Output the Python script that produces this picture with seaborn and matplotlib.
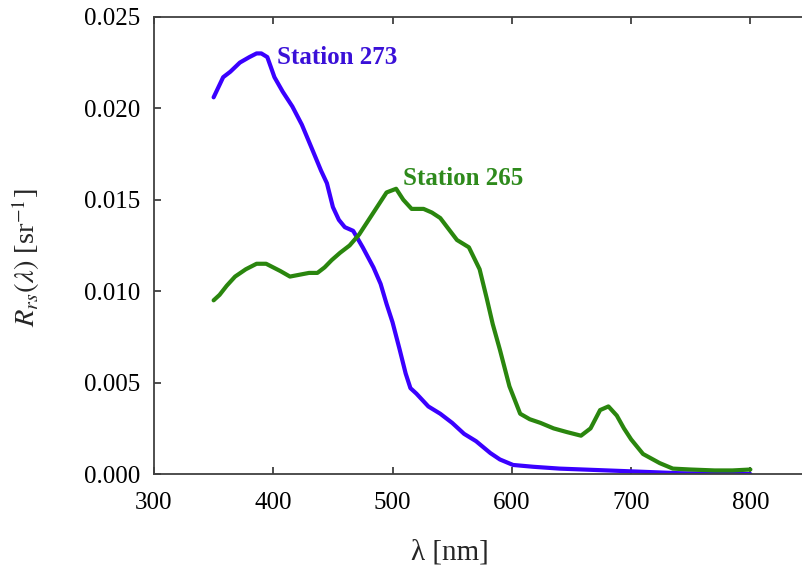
import numpy as np
import pandas as pd
import matplotlib
matplotlib.use("Agg")
import matplotlib.pyplot as plt
import seaborn as sns

# --- data ---
wl_273 = [350, 358, 364, 372, 380, 386, 390, 395, 401, 408, 416, 424, 433, 440,
          445, 450, 455, 460, 467, 475, 484, 490, 495, 500, 506, 511, 515, 520,
          530, 540, 550, 560, 570, 582, 590, 601, 618, 640, 660, 680, 700, 720,
          740, 760, 780, 800]
r_273 = [0.0206, 0.0217, 0.0220, 0.0225, 0.0228, 0.0230, 0.0230, 0.0228, 0.0217,
         0.0209, 0.0201, 0.0191, 0.0177, 0.0166, 0.0159, 0.0146, 0.0139, 0.0135,
         0.0133, 0.0124, 0.0113, 0.0104, 0.0093, 0.0083, 0.0068, 0.0055, 0.0047,
         0.0044, 0.0037, 0.0033, 0.0028, 0.0022, 0.0018, 0.00115, 0.0008, 0.0005,
         0.0004, 0.0003, 0.00025, 0.0002, 0.00015, 0.0001, 0.00005, 0.00003,
         0.00002, 0.0]

wl_265 = [350, 355, 361, 368, 377, 386, 394, 400, 406, 414, 422, 430, 437, 443,
          449, 456, 464, 472, 480, 487, 495, 503, 509, 516, 526, 533, 540, 547,
          554, 564, 573, 579, 584, 590, 598, 607, 615, 624, 635, 646, 658, 666,
          674, 681, 688, 694, 700, 710, 724, 735, 750, 770, 785, 800]
r_265 = [0.0095, 0.0098, 0.0103, 0.0108, 0.0112, 0.0115, 0.0115, 0.0113, 0.0111,
         0.0108, 0.0109, 0.0110, 0.0110, 0.0113, 0.0117, 0.0121, 0.0125, 0.0131,
         0.0139, 0.0146, 0.0154, 0.0156, 0.0150, 0.0145, 0.0145, 0.0143, 0.0140,
         0.0134, 0.0128, 0.0124, 0.0112, 0.0096, 0.0082, 0.0068, 0.0048, 0.0033,
         0.0030, 0.0028, 0.0025, 0.0023, 0.0021, 0.0025, 0.0035, 0.0037, 0.0032,
         0.0025, 0.0019, 0.0011, 0.0006, 0.0003, 0.00025, 0.0002, 0.0002, 0.00025]

stations = ["Station 273", "Station 265"]
colors = {"Station 273": "#3a00ff", "Station 265": "#2a860e"}
label_colors = {"Station 273": "#3a10d8", "Station 265": "#2e8a1c"}

df = pd.concat([
    pd.DataFrame({"wl": wl_273, "rrs": r_273, "station": stations[0]}),
    pd.DataFrame({"wl": wl_265, "rrs": r_265, "station": stations[1]}),
])

sns.set_style("ticks")
plt.rcParams["font.family"] = ["Liberation Serif", "DejaVu Serif"]
plt.rcParams["mathtext.fontset"] = "stix"

fig = plt.figure(figsize=(8.02, 5.81), dpi=100)
ax = fig.add_axes([0.192, 0.184, 0.818, 0.787])

sns.lineplot(data=df, x="wl", y="rrs", hue="station", palette=colors,
             linewidth=3, legend=False, ax=ax, sort=False)

ax.set_xlim(300, 850)
ax.set_ylim(0, 0.025)
ax.set_xticks([300, 400, 500, 600, 700, 800])
ax.set_yticks([0.0, 0.005, 0.010, 0.015, 0.020, 0.025])
ax.set_yticklabels([f"{v:.3f}" for v in ax.get_yticks()])

for s in ax.spines.values():
    s.set_visible(True)
    s.set_color("#404040")
    s.set_linewidth(1.3)
ax.tick_params(direction="in", length=5, width=1.3, color="#404040",
               top=True, right=True, labelsize=18, pad=10, labelcolor="black")
ax.tick_params(axis="x", pad=13)

ax.set_xlabel("λ [nm]", fontsize=21)
ax.set_ylabel(r"$R_{rs}(\lambda)$ [sr$^{-1}$]", fontsize=20.5)
ax.xaxis.set_label_coords(0.451, -0.142)
ax.yaxis.set_label_coords(-0.171, 0.473)

ax.text(403, 0.02276, "Station 273", color=label_colors["Station 273"],
        fontsize=18, fontweight="bold", va="center", ha="left")
ax.text(508.5, 0.01614, "Station 265", color=label_colors["Station 265"],
        fontsize=18, fontweight="bold", va="center", ha="left")

fig.savefig("out.png", dpi=100)
